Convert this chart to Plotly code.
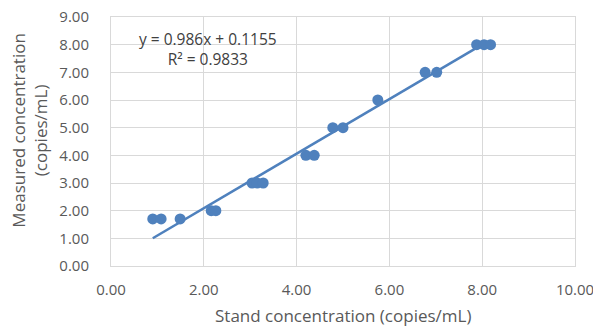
import plotly.graph_objects as go

stand_conc = [0.90, 1.08, 1.49, 2.16, 2.26, 3.04, 3.15, 3.28, 4.20, 4.38,
              4.78, 5.00, 5.75, 6.77, 7.02, 7.88, 8.04, 8.18]
measured_conc = [1.70, 1.70, 1.70, 2.00, 2.00, 3.00, 3.00, 3.00, 4.00, 4.00,
                 5.00, 5.00, 6.00, 7.00, 7.00, 8.00, 8.00, 8.00]
slope = 0.986
intercept = 0.1155
r_squared = 0.9833
trend_x_range = [0.90, 7.85]
tick_vals_x = [0, 2, 4, 6, 8, 10]
tick_vals_y = [0, 1, 2, 3, 4, 5, 6, 7, 8, 9]

blue = "#4f81bd"
gray_text = "#595959"
grid = "#d9d9d9"
font_family = "Open Sans, Noto Sans, sans-serif"

trend_y = [slope * x + intercept for x in trend_x_range]

fig = go.Figure()
fig.add_trace(go.Scatter(
    x=trend_x_range, y=trend_y, mode="lines",
    line=dict(color=blue, width=2.5), showlegend=False, hoverinfo="skip"))
fig.add_trace(go.Scatter(
    x=stand_conc, y=measured_conc, mode="markers",
    marker=dict(color=blue, size=11, line=dict(width=0)), showlegend=False))

fig.add_annotation(
    x=2.08, y=7.86, xref="x", yref="y",
    text=f"y = {slope}x + {intercept}<br>R² = {r_squared}",
    showarrow=False, align="center",
    font=dict(family=font_family, size=15.5, color="#404040"))

fig.add_annotation(
    x=0.5, y=-0.197, xref="paper", yref="paper",
    text="Stand concentration (copies/mL)", showarrow=False,
    xanchor="center", yanchor="middle",
    font=dict(family=font_family, size=17, color=gray_text))

fig.add_annotation(
    x=-0.176, y=0.545, xref="paper", yref="paper",
    text="Measured concentration<br>(copies/mL)", showarrow=False,
    textangle=-90, xanchor="center", yanchor="middle",
    font=dict(family=font_family, size=17, color=gray_text))

fig.update_layout(
    width=593, height=327,
    margin=dict(l=111, r=18, t=17, b=61),
    paper_bgcolor="white", plot_bgcolor="white",
    font=dict(family=font_family, color=gray_text),
    xaxis=dict(
        range=[0, 10], tickvals=tick_vals_x,
        ticktext=[f"{v:.2f}" for v in tick_vals_x],
        showgrid=True, gridcolor=grid, gridwidth=1,
        zeroline=False, showline=True, linecolor=grid, linewidth=1, mirror=True,
        ticks="outside", ticklen=10, tickcolor="rgba(0,0,0,0)",
        ticklabeloverflow="allow",
        tickfont=dict(size=15, color=gray_text), automargin=False),
    yaxis=dict(
        range=[0, 9], tickvals=tick_vals_y,
        ticktext=[f"{v:.2f}" for v in tick_vals_y],
        showgrid=True, gridcolor=grid, gridwidth=1,
        zeroline=False, showline=True, linecolor=grid, linewidth=1, mirror=True,
        ticks="outside", ticklen=18, tickcolor="rgba(0,0,0,0)",
        ticklabeloverflow="allow",
        tickfont=dict(size=15, color=gray_text), automargin=False),
)

fig.write_html("out.html", config={"displayModeBar": False},
               post_script="document.body.style.margin='0px';document.body.style.overflow='hidden';")
